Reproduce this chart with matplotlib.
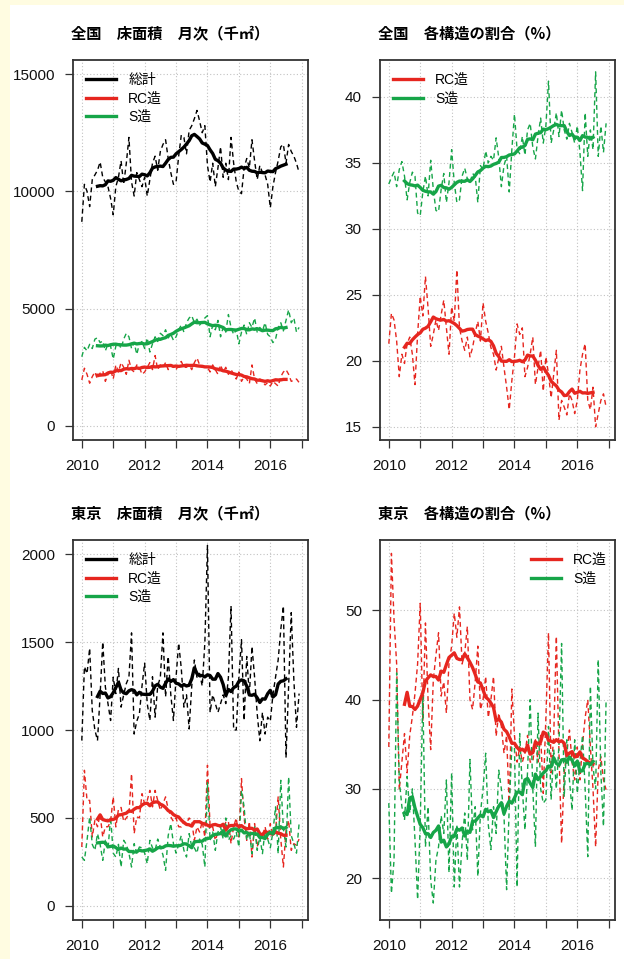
import numpy as np
import pandas as pd
import matplotlib
matplotlib.use('Agg')
import matplotlib.pyplot as plt
from matplotlib.patches import Rectangle

plt.rcParams['font.family'] = ['Liberation Sans', 'Noto Sans CJK JP', 'DejaVu Sans']

# monthly values, Jan 2010 - Dec 2016 (one row = one year)
# 全国 床面積 (千m2)
zenkoku_total = [
    8700, 10300, 10000, 9350, 10500, 10700, 10900, 11250, 10600, 10400, 10200, 9700,
    9000, 10200, 10600, 11300, 10300, 11200, 12300, 10400, 9800, 10800, 10500, 10200,
    10600, 9800, 10500, 11200, 11500, 10900, 11700, 12000, 12200, 11400, 10800, 10300,
    10400, 11500, 12400, 12300, 11600, 12600, 12800, 13100, 13450, 13000, 12500, 12800,
    11100, 10400, 11200, 10200, 11000, 11900, 10600, 11200, 10500, 12300, 11200, 10400,
    10000, 9900, 11000, 11400, 11000, 12200, 11300, 10500, 11100, 10800, 10700, 10300,
    9300, 10200, 10800, 11300, 11900, 12000, 11200, 12000, 11700, 11500, 11200, 10800]
zenkoku_rc = [
    1960, 2460, 2200, 1820, 2100, 2300, 2000, 2250, 2350, 1900, 2200, 2400,
    2000, 2600, 2300, 2700, 2500, 2200, 2800, 2400, 2300, 2600, 2500, 2200,
    2300, 2500, 2700, 2400, 3000, 2400, 2600, 2500, 2700, 2400, 2600, 2500,
    2400, 2600, 2750, 2500, 2500, 2600, 2400, 2700, 2900, 2600, 2500, 2500,
    2500, 2300, 2600, 2400, 2200, 2600, 2300, 2500, 2200, 2400, 2200, 2000,
    2300, 1900, 2100, 2000, 1800, 2600, 2000, 1800, 2000, 1900, 1750, 1850,
    1700, 1900, 1800, 1700, 2100, 2300, 2400, 2200, 1900, 1950, 2000, 1850]
zenkoku_s = [
    2950, 3350, 3200, 3480, 3300, 3700, 3760, 3550, 3620, 3200, 3500, 3400,
    2850, 3400, 3550, 3300, 3700, 3950, 3800, 3300, 3550, 3050, 3500, 3600,
    3300, 3750, 3150, 3500, 3800, 3600, 3950, 3850, 4100, 3750, 3900, 3650,
    3800, 4100, 4300, 4000, 4400, 4600, 4700, 4400, 4550, 4300, 4450, 4600,
    4700, 3800, 4300, 4100, 4500, 3800, 4200, 4000, 4750, 4200, 3900, 4100,
    3500, 4000, 4300, 3900, 4400, 4200, 4600, 4000, 4200, 4050, 4400, 3900,
    3800, 3550, 3700, 4200, 4400, 4050, 4500, 4950, 4400, 4600, 4000, 4200]

# 全国 各構造の割合 (%)
zenkoku_rc_share = [
    21.3, 23.6, 23.1, 21.5, 18.8, 20.5, 19.8, 21.3, 21.8, 20.5, 18.2, 22.0,
    24.9, 23.4, 26.4, 24.0, 21.1, 22.0, 23.1, 22.3, 23.5, 24.6, 22.5, 20.5,
    24.1, 23.0, 26.9, 22.5, 21.5, 20.8, 21.8, 20.3, 21.0, 22.1, 23.0, 21.5,
    24.4, 23.0, 22.1, 21.0, 20.5, 19.3, 20.2, 21.1, 19.5, 18.0, 16.3, 18.5,
    20.3, 22.8, 22.0, 22.5, 18.8, 19.5, 20.5, 21.8, 18.2, 19.5, 20.8, 17.7,
    20.3, 19.0, 17.2, 19.0, 20.8, 15.5, 17.0, 16.5, 15.9, 17.5, 17.0, 16.0,
    17.0, 19.3, 20.5, 21.3, 17.0, 16.3, 18.0, 15.0, 16.0, 17.0, 17.5, 16.5]
zenkoku_s_share = [
    33.4, 33.9, 34.3, 33.2, 34.5, 35.1, 34.0, 32.2, 33.5, 34.3, 34.0, 31.2,
    31.0, 32.8, 34.0, 32.5, 35.2, 33.0, 31.4, 31.3, 33.0, 34.2, 32.0, 33.5,
    36.0, 33.5, 32.0, 32.2, 34.0, 34.6, 33.8, 33.5, 34.2, 34.0, 32.0, 34.8,
    34.5, 35.9, 35.0, 35.5, 35.2, 36.9, 35.4, 33.2, 34.8, 35.5, 32.8, 36.0,
    38.7, 36.0, 35.7, 37.0, 35.6, 37.5, 38.0, 36.2, 35.3, 37.0, 38.4, 36.5,
    37.8, 41.2, 36.5, 37.5, 38.8, 37.0, 39.0, 37.5, 36.8, 38.0, 37.3, 36.5,
    37.8, 35.8, 32.9, 38.8, 35.5, 37.5, 36.0, 41.9, 35.5, 37.8, 35.8, 38.0]

# 東京 床面積 (千m2)
tokyo_total = [
    940, 1360, 1320, 1465, 1110, 1000, 940, 1200, 1500, 1245, 1150, 1054,
    1300, 1207, 1350, 1130, 1200, 1264, 1300, 1552, 977, 1050, 1092, 1250,
    1380, 1150, 1054, 1303, 1073, 1250, 1300, 1552, 1188, 1418, 1200, 1054,
    1300, 1494, 1350, 1130, 1200, 1006, 1250, 1398, 1300, 1322, 1250, 1494,
    2050, 1100, 1200, 1150, 1100, 1150, 1200, 1150, 1300, 1705, 1000, 1000,
    1300, 1513, 1054, 1418, 1200, 1475, 1300, 1092, 939, 1100, 977, 1073,
    1050, 1200, 1300, 1398, 1571, 1705, 843, 1250, 1667, 1284, 1015, 1207]
tokyo_rc = [
    335, 771, 600, 600, 392, 487, 450, 520, 392, 450, 450, 480,
    620, 449, 550, 560, 480, 500, 520, 752, 411, 506, 500, 638,
    580, 600, 657, 563, 657, 600, 544, 580, 620, 550, 506, 480,
    500, 450, 449, 480, 470, 500, 480, 373, 450, 420, 480, 392,
    800, 450, 450, 373, 420, 420, 392, 480, 480, 354, 450, 500,
    392, 724, 500, 373, 480, 278, 468, 335, 400, 392, 450, 380,
    468, 400, 420, 620, 380, 221, 430, 487, 316, 354, 345, 380]
tokyo_s = [
    278, 259, 373, 506, 350, 316, 411, 350, 259, 373, 320, 506,
    300, 278, 350, 221, 373, 350, 300, 221, 354, 300, 335, 330,
    300, 240, 373, 330, 316, 380, 335, 290, 202, 400, 468, 354,
    300, 350, 400, 316, 278, 411, 335, 330, 300, 380, 350, 221,
    700, 373, 420, 316, 420, 450, 380, 500, 373, 400, 380, 420,
    335, 657, 563, 373, 420, 297, 449, 316, 392, 297, 430, 380,
    330, 420, 563, 297, 714, 440, 335, 733, 400, 354, 300, 468]

# 東京 各構造の割合 (%)
tokyo_rc_share = [
    34.7, 56.4, 49.0, 44.0, 29.9, 33.0, 36.2, 31.8, 36.0, 38.1, 40.7, 44.0,
    50.8, 37.7, 48.6, 40.0, 34.4, 42.2, 45.0, 47.5, 40.4, 42.0, 38.5, 44.1,
    46.0, 49.7, 47.0, 50.4, 44.0, 45.2, 48.2, 40.0, 38.9, 42.0, 46.0, 38.9,
    40.0, 42.6, 38.0, 40.0, 42.6, 35.9, 38.5, 37.0, 34.0, 36.0, 28.0, 41.2,
    36.0, 33.0, 34.7, 33.0, 34.0, 36.0, 33.0, 33.0, 35.5, 33.0, 36.0, 29.5,
    38.0, 47.5, 31.8, 36.0, 47.1, 34.0, 23.9, 31.8, 34.0, 36.6, 33.0, 31.0,
    34.7, 31.0, 35.0, 38.0, 40.0, 34.7, 30.0, 23.5, 32.1, 33.6, 31.0, 29.9]
tokyo_s_share = [
    28.4, 18.3, 22.0, 43.0, 31.0, 28.0, 26.5, 31.4, 27.3, 30.0, 24.3, 17.6,
    26.0, 40.7, 23.5, 28.0, 19.8, 17.2, 22.0, 23.5, 27.0, 25.0, 31.0, 20.6,
    31.8, 19.0, 26.0, 19.0, 24.0, 27.3, 22.0, 33.3, 25.4, 28.0, 20.2, 27.3,
    30.0, 34.0, 26.0, 23.2, 28.0, 25.0, 32.1, 30.0, 27.0, 18.7, 28.0, 34.7,
    34.7, 19.0, 36.2, 30.0, 25.4, 32.0, 40.0, 30.0, 23.5, 38.5, 30.0, 28.4,
    28.8, 37.0, 28.8, 34.4, 30.0, 35.0, 46.3, 29.1, 35.5, 31.0, 27.6, 35.5,
    29.5, 33.0, 36.0, 30.0, 22.4, 41.5, 32.5, 30.0, 44.5, 31.8, 25.8, 40.0]

years = list(range(2010, 2018))
months = 2010 + np.arange(len(zenkoku_total)) / 12

RED = '#E6261F'
GREEN = '#16A548'
BLACK = '#000000'


def ma12(v):
    # centred 12-month moving average
    return pd.Series(v).rolling(12, center=True).mean()


def setup(ax, ylim, yticks):
    ax.set_xlim(2009.72, 2017.2)
    ax.set_ylim(*ylim)
    ax.set_xticks(years)
    ax.set_xticklabels([str(y) if y % 2 == 0 else '' for y in years])
    ax.set_yticks(yticks)
    ax.grid(True, color='#C2C2C2', linestyle=(0, (1, 2)), linewidth=0.8)
    ax.set_axisbelow(True)
    ax.tick_params(direction='out', length=6, width=0.9, color='#333333',
                   labelsize=11, labelcolor='#111111')
    ax.tick_params(axis='x', pad=8)
    ax.tick_params(axis='y', pad=7)
    for s in ax.spines.values():
        s.set_linewidth(1.3)
        s.set_color('#333333')


def draw(ax, series, colors, labels):
    for v, c in zip(series, colors):
        ax.plot(months, v, color=c, lw=1.0, linestyle=(0, (3.5, 2.5)))
    for v, c, lab in zip(series, colors, labels):
        ax.plot(months, ma12(v), color=c, lw=2.4, label=lab)


fig = plt.figure(figsize=(6.24, 9.59), dpi=100, facecolor='#FFFCE1')
fig.add_artist(Rectangle((10 / 624, 0), 1, 1 - 5 / 959, transform=fig.transFigure,
                         facecolor='white', edgecolor='none', zorder=-1))

W, H = 235 / 624, 380 / 959
ax1 = fig.add_axes([73 / 624, 1 - 440 / 959, W, H])
ax2 = fig.add_axes([380 / 624, 1 - 440 / 959, W, H])
ax3 = fig.add_axes([73 / 624, 1 - 920 / 959, W, H])
ax4 = fig.add_axes([380 / 624, 1 - 920 / 959, W, H])

draw(ax1, [zenkoku_total, zenkoku_rc, zenkoku_s], [BLACK, RED, GREEN], ['総計', 'RC造', 'S造'])
setup(ax1, (-600, 15600), [0, 5000, 10000, 15000])

draw(ax2, [zenkoku_rc_share, zenkoku_s_share], [RED, GREEN], ['RC造', 'S造'])
setup(ax2, (14.0, 42.8), [15, 20, 25, 30, 35, 40])

draw(ax3, [tokyo_total, tokyo_rc, tokyo_s], [BLACK, RED, GREEN], ['総計', 'RC造', 'S造'])
setup(ax3, (-80, 2080), [0, 500, 1000, 1500, 2000])

draw(ax4, [tokyo_rc_share, tokyo_s_share], [RED, GREEN], ['RC造', 'S造'])
setup(ax4, (15.3, 57.9), [20, 30, 40, 50])

leg_kw = dict(frameon=False, borderpad=0, borderaxespad=0, handlelength=2.2,
              handletextpad=0.85, labelspacing=0.3, fontsize=10)
for ax in (ax1, ax2, ax3):
    ax.legend(loc='upper left', bbox_to_anchor=(0.055, 0.965), **leg_kw)
ax4.legend(loc='upper right', bbox_to_anchor=(0.966, 0.965), **leg_kw)

tkw = dict(ha='center', va='center', fontsize=11, fontweight='bold',
           family=['Noto Sans CJK JP', 'DejaVu Sans'])
fig.text(170 / 624, 1 - 33 / 959, '全国　床面積　月次（千㎡）', **tkw)
fig.text(469 / 624, 1 - 33 / 959, '全国　各構造の割合（%）', **tkw)
fig.text(170 / 624, 1 - 513 / 959, '東京　床面積　月次（千㎡）', **tkw)
fig.text(469 / 624, 1 - 513 / 959, '東京　各構造の割合（%）', **tkw)

fig.savefig('out.png', dpi=100, facecolor=fig.get_facecolor())
